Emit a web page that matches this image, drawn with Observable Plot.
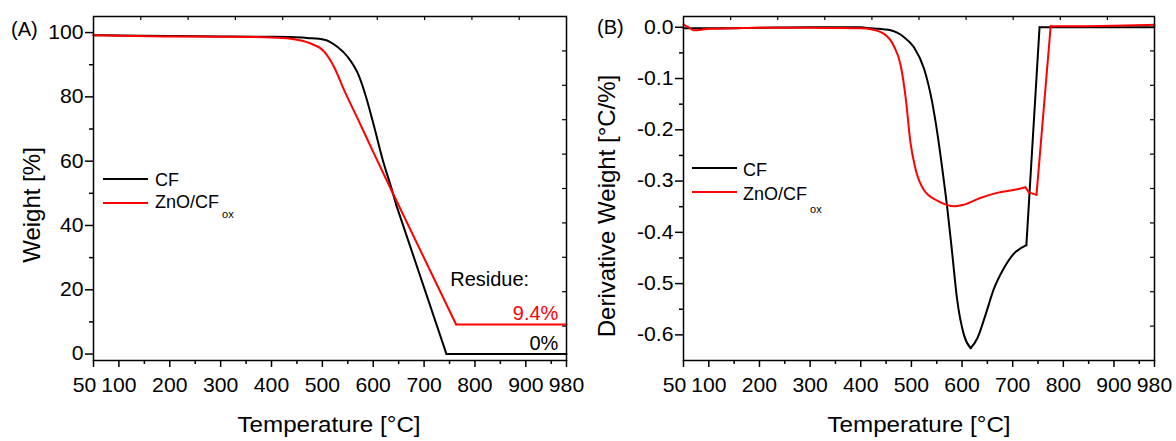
<!DOCTYPE html>
<html>
<head>
<meta charset="utf-8">
<script src="https://cdn.jsdelivr.net/npm/d3@7"></script>
<script src="https://cdn.jsdelivr.net/npm/@observablehq/plot@0.6"></script>
<style>
  html, body { margin: 0; padding: 0; background: #fff; }
  #wrap { position: relative; width: 1176px; height: 441px; overflow: hidden;
          font-family: "Liberation Sans", Arial, sans-serif; color: #000; }
  .panel { position: absolute; top: 0; width: 588px; height: 441px; }
  .txt { position: absolute; line-height: 1; white-space: nowrap; }
  .leg-line { position: absolute; height: 2px; }
</style>
</head>
<body>
<div id="wrap"></div>
<script>
// ---------- Data ----------
// Panel A: TGA weight (%) vs temperature (°C)
const tgaT_CF  = [50, 100, 200, 300, 400, 438, 470, 504, 530, 550, 570, 586, 602, 619, 635, 645, 744, 800, 900, 980];
const tgaW_CF  = [99.2, 99.1, 98.9, 98.8, 98.7, 98.6, 98.3, 97.8, 95.5, 92.4, 87.2, 79.9, 70.6, 60.2, 52.0, 46.5, 0, 0, 0, 0];
const tgaT_ZnO = [50, 100, 200, 300, 400, 438, 477, 504, 523, 543, 570, 602, 635, 763, 800, 900, 980];
const tgaW_ZnO = [99.2, 99.0, 98.8, 98.7, 98.5, 98.1, 96.6, 94.0, 89.3, 82.0, 73.0, 62.2, 51.2, 9.2, 9.2, 9.2, 9.2];
// temperatures where the curve has a sharp corner
const tgaKinks_CF  = [645, 744];
const tgaKinks_ZnO = [635, 763];

// Panel B: DTG derivative weight vs temperature (°C)
const dtgT_CF  = [50, 100, 200, 300, 400, 420, 459, 485, 505, 525, 541, 551, 561, 571, 581, 590, 604, 617, 630, 646, 663, 682, 702, 727, 753, 800, 900, 980];
const dtgV_CF  = [-0.002, -0.002, -0.001, 0.000, 0.000, -0.002, -0.006, -0.019, -0.039, -0.081, -0.146, -0.205, -0.276, -0.354, -0.445, -0.529, -0.601, -0.626, -0.607, -0.562, -0.510, -0.471, -0.442, -0.425, 0.000, 0.000, 0.000, 0.000];
const dtgT_ZnO = [50, 60, 70, 85, 100, 150, 200, 300, 400, 420, 446, 465, 479, 489, 498, 508, 525, 551, 587, 604, 636, 669, 709, 725, 732, 747, 775, 800, 900, 980];
const dtgV_ZnO = [0.005, 0.000, -0.006, -0.005, -0.003, -0.002, -0.001, -0.001, -0.002, -0.004, -0.013, -0.036, -0.075, -0.140, -0.224, -0.276, -0.318, -0.338, -0.349, -0.346, -0.333, -0.323, -0.316, -0.312, -0.322, -0.327, 0.002, 0.002, 0.003, 0.005];
const dtgKinks_CF  = [617, 727, 753];
const dtgKinks_ZnO = [725, 732, 747, 775];

// Series names / colours
const seriesNames  = ["CF", "ZnO/CF"];
const seriesColors = ["#000000", "#ff0000"];

// Ticks
const xMajor  = [50, 100, 200, 300, 400, 500, 600, 700, 800, 900, 980];
const xMinor  = [150, 250, 350, 450, 550, 650, 750, 850, 950];
const yMajorA = [0, 20, 40, 60, 80, 100];
const yMinorA = [10, 30, 50, 70, 90];
const yMajorB = [0, -0.1, -0.2, -0.3, -0.4, -0.5, -0.6];
const yMinorB = [-0.05, -0.15, -0.25, -0.35, -0.45, -0.55];

// Residue annotations (panel A)
const residueLabel  = "Residue:";
const residueTexts  = ["9.4%", "0%"];
const residueColors = ["#ff0000", "#000000"];

// Domains
const xDomain  = [50, 980];
const yDomainA = [-2, 105];
const yDomainB = [-0.65, 0.021];

// ---------- Layout ----------
const PW = 588, PH = 441, MT = 16, MB = 81, MR = 22;
const FONT = "Liberation Sans, Arial, sans-serif";
const TICK_STRETCH = 1.06;
const wrap = document.getElementById("wrap");

// split a series into pieces at sharp corners; each piece drawn smoothly
function toPieces(T, V, kinks) {
  const rows = []; let z = 0;
  T.forEach((t, i) => {
    rows.push({T: t, V: V[i], z});
    if (kinks.includes(t) && i < T.length - 1) { z++; rows.push({T: t, V: V[i], z}); }
  });
  return rows;
}
function divisions(domain, n) { return d3.range(1, n).map(k => domain[0] + (domain[1] - domain[0]) * k / n); }

function makePanel({marginLeft, yDomain, yMajor, yMinor, yFmt, series, extra = []}) {
  const frameW = PW - marginLeft - MR, frameH = PH - MT - MB;
  const marks = [
    Plot.axisX({ticks: xMajor, tickSize: 7, tickPadding: 10, fontSize: 20, strokeWidth: 1.5,
                tickFormat: d => d === 50 ? "" : String(d), label: null}),
    Plot.axisX({ticks: [50], tickSize: 0, tickPadding: 17, dx: -9, fontSize: 20,
                tickFormat: d => String(d), label: null}),
    Plot.axisX({ticks: xMinor, tickSize: 4, strokeWidth: 1.5, tickFormat: () => "", label: null}),
    Plot.axisY({ticks: yMajor, tickSize: 8, tickPadding: 2, fontSize: 20, strokeWidth: 1.5,
                tickFormat: yFmt, label: null}),
    Plot.axisY({ticks: yMinor, tickSize: 4, strokeWidth: 1.5, tickFormat: () => "", label: null}),
    // inward ticks on mirrored top/right axes
    Plot.tickX(divisions(xDomain, 10), {x: d => d, insetBottom: frameH - 4, strokeWidth: 1.2}),
    Plot.tickY(divisions(yDomain, 10), {y: d => d, insetLeft: frameW - 4, strokeWidth: 1.2}),
    ...series.map((s, i) => Plot.line(toPieces(s.T, s.V, s.kinks),
        {x: "T", y: "V", z: "z", stroke: seriesColors[i], strokeWidth: 2, curve: "monotone-x"})),
    ...extra,
    Plot.frame({strokeWidth: 1.5})
  ];
  const svg = Plot.plot({
    width: PW, height: PH,
    marginLeft, marginRight: MR, marginTop: MT, marginBottom: MB,
    x: {domain: xDomain, label: null},
    y: {domain: yDomain, label: null},
    style: {fontFamily: FONT, fontSize: "20px", color: "#000", background: "#fff", overflow: "visible"},
    marks
  });
  // slightly wider tick-label glyphs, as in the original figure
  svg.querySelectorAll('g[aria-label$="tick label"] text').forEach(t => {
    const tr = t.getAttribute("transform");
    if (tr && tr.includes("translate")) t.setAttribute("transform", tr + ` scale(${TICK_STRETCH},1)`);
  });
  return svg;
}

const panelA = makePanel({
  marginLeft: 93, yDomain: yDomainA, yMajor: yMajorA, yMinor: yMinorA, yFmt: d => String(d),
  series: [{T: tgaT_CF, V: tgaW_CF, kinks: tgaKinks_CF}, {T: tgaT_ZnO, V: tgaW_ZnO, kinks: tgaKinks_ZnO}],
  extra: [
    Plot.text([residueLabel], {x: 829, y: 23.2, text: d => d, textAnchor: "middle", fontSize: 20, fill: "#000"}),
    Plot.text([residueTexts[0]], {x: 964, y: 12.6, text: d => d, textAnchor: "end", fontSize: 20, fill: residueColors[0]}),
    Plot.text([residueTexts[1]], {x: 964, y: 3.4, text: d => d, textAnchor: "end", fontSize: 20, fill: residueColors[1]})
  ]
});
const panelB = makePanel({
  marginLeft: 95, yDomain: yDomainB, yMajor: yMajorB, yMinor: yMinorB, yFmt: d => d.toFixed(1),
  series: [{T: dtgT_CF, V: dtgV_CF, kinks: dtgKinks_CF}, {T: dtgT_ZnO, V: dtgV_ZnO, kinks: dtgKinks_ZnO}]
});

[panelA, panelB].forEach((svg, i) => {
  const d = document.createElement("div");
  d.className = "panel";
  d.style.left = (i * PW) + "px";
  d.appendChild(svg);
  wrap.appendChild(d);
});

// ---------- Overlay text ----------
const ASC = 0.8465; // baseline offset for line-height 1 (Liberation Sans)
function addText(html, {x, baseline, size, anchor = "start", color = "#000", stretch = 1}) {
  const el = document.createElement("div");
  el.className = "txt";
  el.innerHTML = html;
  el.style.fontSize = size + "px";
  el.style.color = color;
  el.style.left = x + "px";
  el.style.top = (baseline - ASC * size) + "px";
  if (anchor === "middle") el.style.transform = `translateX(-50%) scaleX(${stretch})`;
  wrap.appendChild(el);
  return el;
}
function addVText(text, {cx, cy, size}) {
  const el = document.createElement("div");
  el.className = "txt";
  el.textContent = text;
  el.style.fontSize = size + "px";
  el.style.left = cx + "px";
  el.style.top = cy + "px";
  el.style.transform = "translate(-50%,-50%) rotate(-90deg)";
  wrap.appendChild(el);
}
function addLegend({x, tx, rows}) {
  seriesNames.forEach((name, i) => {
    const ln = document.createElement("div");
    ln.className = "leg-line";
    ln.style.left = x + "px";
    ln.style.width = "45px";
    ln.style.top = (rows[i].line - 1) + "px";
    ln.style.background = seriesColors[i];
    wrap.appendChild(ln);
    const html = i === 1
      ? name + '<span style="font-size:11px;position:relative;top:' + rows[i].sub + 'px;margin-left:3px">ox</span>'
      : name;
    addText(html, {x: tx, baseline: rows[i].base, size: 18});
  });
}

addText("(A)", {x: 11, baseline: 36, size: 20});
addText("(B)", {x: 597, baseline: 33.5, size: 20});
addText("Temperature [°C]", {x: 328.5, baseline: 432.5, size: 22, anchor: "middle", stretch: 1.1});
addText("Temperature [°C]", {x: 918.5, baseline: 432.5, size: 22, anchor: "middle", stretch: 1.1});
addVText("Weight [%]", {cx: 31.5, cy: 205, size: 24});
addVText("Derivative Weight [°C/%]", {cx: 607, cy: 206, size: 24});

addLegend({x: 103, tx: 155, rows: [{line: 179, base: 186.7}, {line: 202.7, base: 208.7, sub: 10}]});
addLegend({x: 692, tx: 743, rows: [{line: 168, base: 176.7}, {line: 192.3, base: 200.7, sub: 13}]});
</script>
</body>
</html>
